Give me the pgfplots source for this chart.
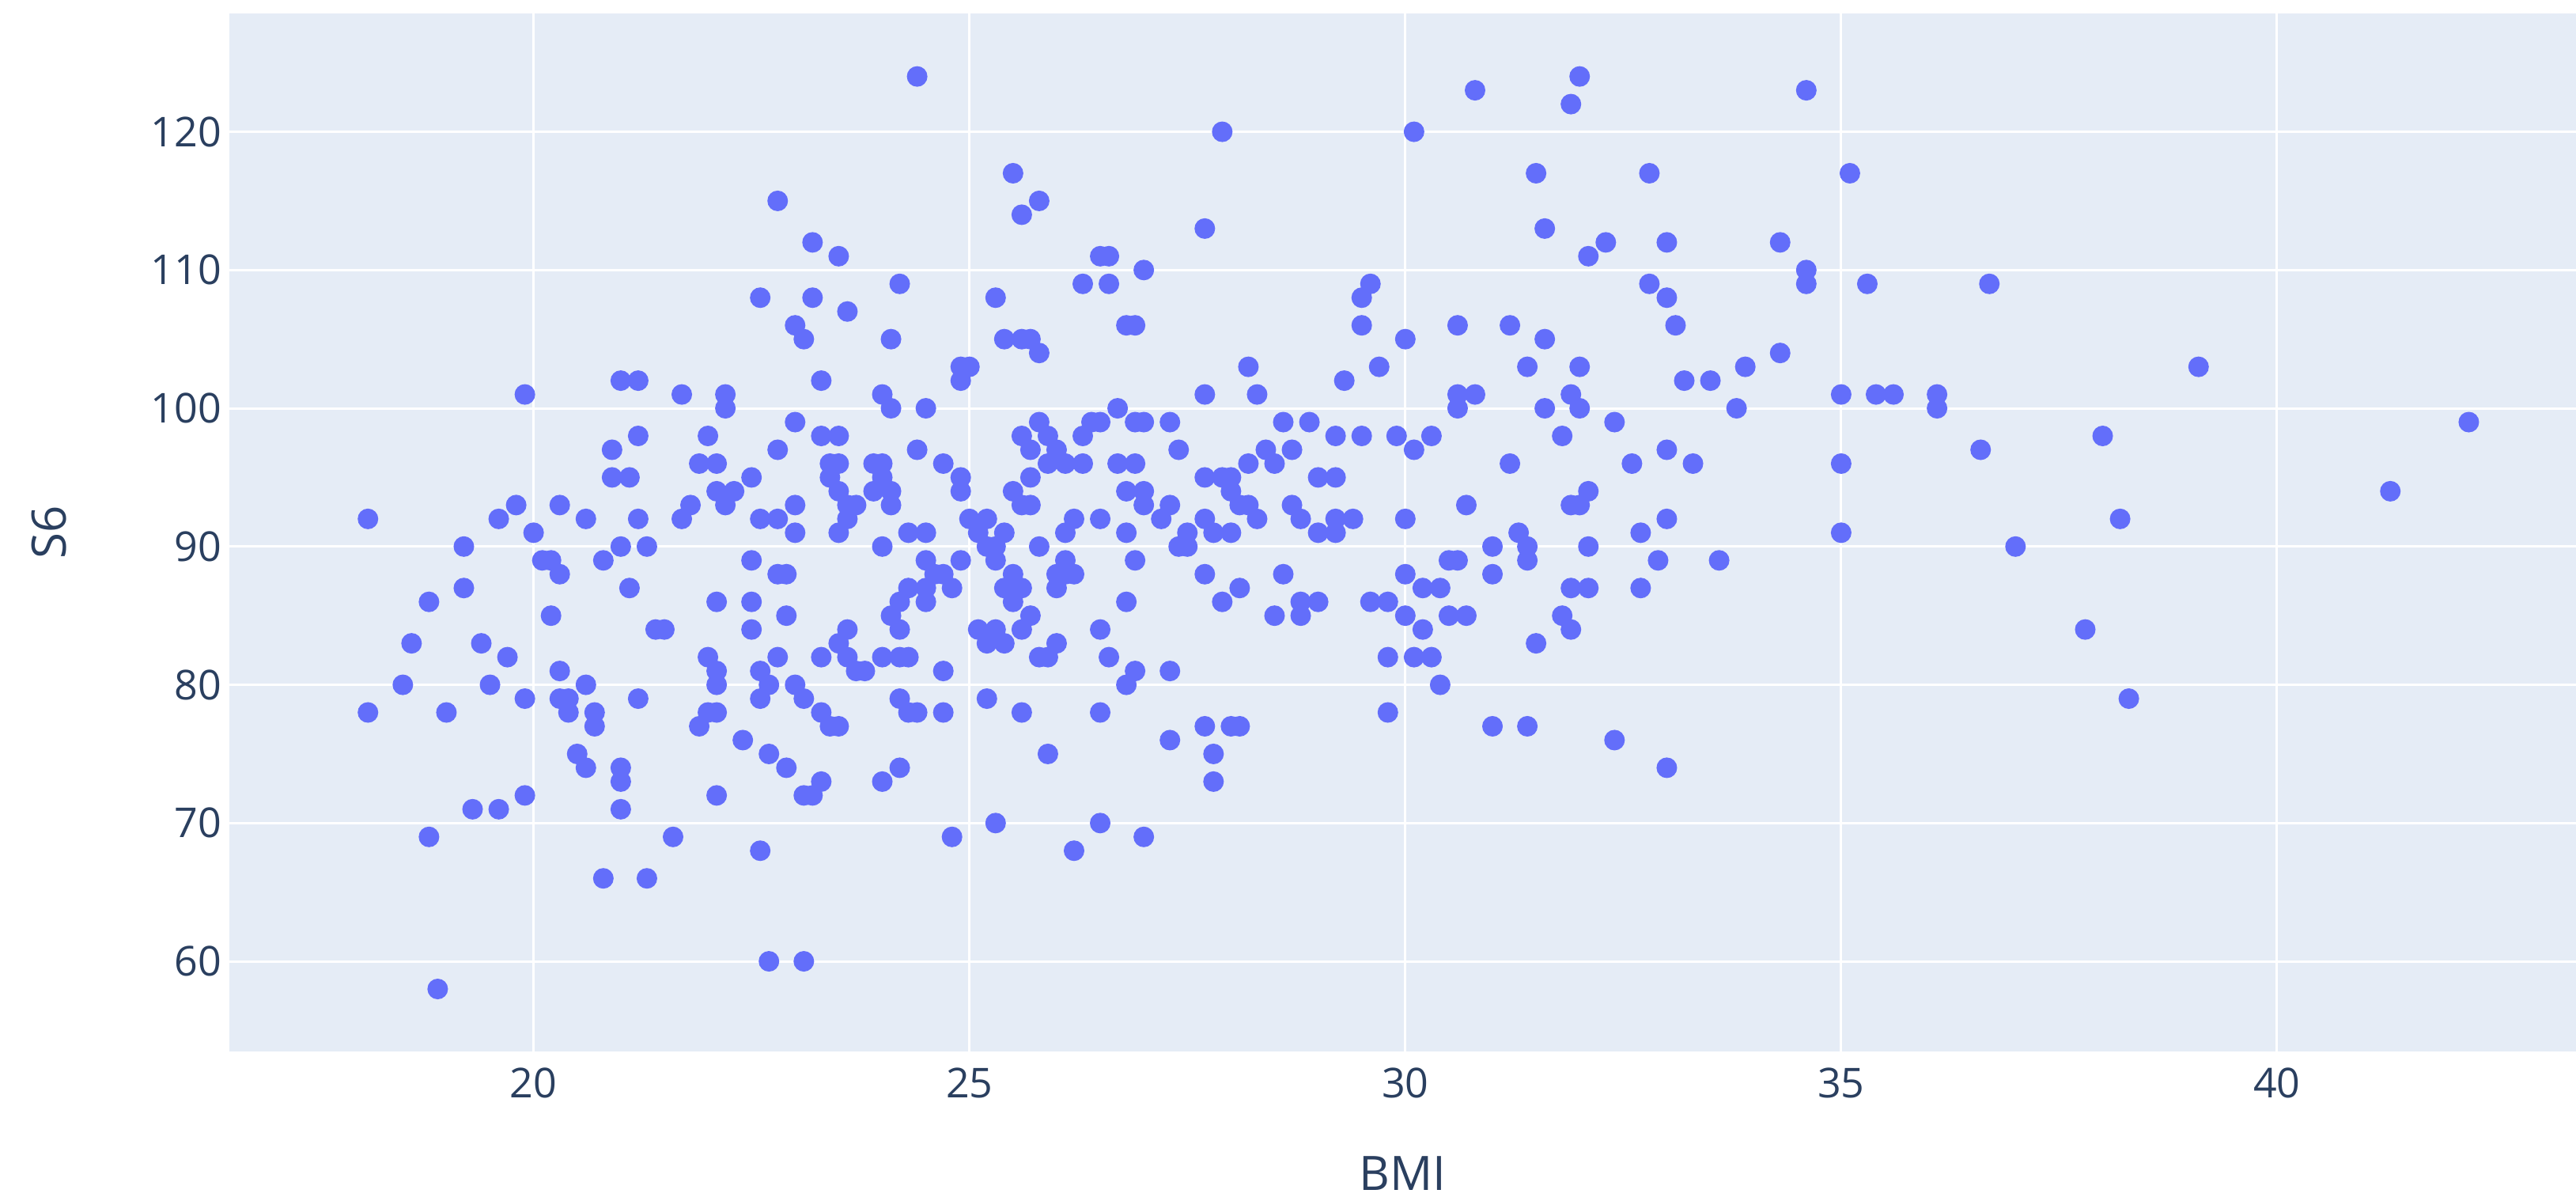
\documentclass[border=0pt]{standalone}
\usepackage{fontspec}
\setmainfont{Open Sans}
\usepackage{pgfplots}
\usepackage{pgfplotstable}
\pgfplotsset{compat=1.18}
\definecolor{plotbg}{HTML}{E5ECF6}
\definecolor{markc}{HTML}{636EFA}
\definecolor{labelc}{HTML}{2A3F5F}

\pgfplotstableread{
x y
24.4 124
27.9 120
25.5 117
22.8 115
25.8 115
25.6 114
27.7 113
23.2 112
23.5 111
22.6 108
23.2 108
32.0 124
30.8 123
34.6 123
31.9 122
30.1 120
31.5 117
32.8 117
35.1 117
31.6 113
32.3 112
33.0 112
34.3 112
32.1 111
34.6 110
32.8 109
34.6 109
35.3 109
36.7 109
33.0 108
23.6 107
23.0 106
23.1 105
21.0 102
21.2 102
23.3 102
19.9 101
21.7 101
22.2 101
22.2 100
23.0 99
21.2 98
22.0 98
23.3 98
23.5 98
20.9 97
22.8 97
21.9 96
22.1 96
23.4 96
23.5 96
20.9 95
21.1 95
22.5 95
23.4 95
22.1 94
22.3 94
23.5 94
23.6 93
19.8 93
20.3 93
21.8 93
22.2 93
23.0 93
18.1 92
19.6 92
20.6 92
21.2 92
21.7 92
22.6 92
22.8 92
23.6 92
20.0 91
23.0 91
23.5 91
19.2 90
21.0 90
21.3 90
20.1 89
20.2 89
20.3 88
20.8 89
22.5 89
22.8 88
22.9 88
19.2 87
21.1 87
18.8 86
22.1 86
22.5 86
20.2 85
22.9 85
21.4 84
21.5 84
22.5 84
23.6 84
18.6 83
19.4 83
23.5 83
19.7 82
22.0 82
22.8 82
23.3 82
23.6 82
22.1 81
20.3 81
22.6 81
18.5 80
19.5 80
20.6 80
22.1 80
22.7 80
23.0 80
23.7 93
23.9 96
23.9 94
23.7 81
23.8 81
19.9 79
18.1 78
19.0 78
20.3 79
20.4 79
20.4 78
20.7 78
20.7 77
21.2 79
23.1 79
22.6 79
22.0 78
22.1 78
21.9 77
23.3 78
23.4 77
23.5 77
22.4 76
20.5 75
20.6 74
21.0 74
21.0 73
22.7 75
22.9 74
23.3 73
23.1 72
23.2 72
19.9 72
19.3 71
19.6 71
21.0 71
22.1 72
18.8 69
21.6 69
22.6 68
20.8 66
21.3 66
22.7 60
23.1 60
18.9 58
26.5 111
26.6 111
27.0 110
24.2 109
26.3 109
26.6 109
29.6 109
29.5 108
25.3 108
26.8 106
26.9 106
29.5 106
24.1 105
25.4 105
25.6 105
25.7 105
25.8 104
24.9 103
25.0 103
24.9 102
28.2 103
29.7 103
29.3 102
27.7 101
28.3 101
24.0 101
24.1 100
24.5 100
26.7 100
25.8 99
26.4 99
26.5 99
26.9 99
27.0 99
27.3 99
28.6 99
28.9 99
25.6 98
25.9 98
26.3 98
29.2 98
29.5 98
29.9 98
24.4 97
25.7 97
26.0 97
27.4 97
28.4 97
28.7 97
24.7 96
25.9 96
26.1 96
26.3 96
26.7 96
26.9 96
28.2 96
28.5 96
24.0 96
24.0 95
24.1 94
24.1 93
24.9 95
24.9 94
25.7 95
27.7 95
27.9 95
28.0 95
29.0 95
29.2 95
25.5 94
26.8 94
27.0 94
28.0 94
25.6 93
25.7 93
27.0 93
27.3 93
28.1 93
28.2 93
28.7 93
25.0 92
25.2 92
26.2 92
26.5 92
27.2 92
27.7 92
28.3 92
28.8 92
29.2 92
29.4 92
24.3 91
24.5 91
25.1 91
25.4 91
26.1 91
26.8 91
27.5 91
27.8 91
28.0 91
29.0 91
29.2 91
25.2 90
25.8 90
27.4 90
24.0 90
25.3 90
27.5 90
24.5 89
24.9 89
25.3 89
26.1 89
26.9 89
24.6 88
24.7 88
25.5 88
26.0 88
26.1 88
26.2 88
27.7 88
28.6 88
24.3 87
24.5 87
24.8 87
25.4 87
25.5 87
25.6 87
26.0 87
28.1 87
24.2 86
24.5 86
25.5 86
26.8 86
27.9 86
28.8 86
29.0 86
29.6 86
29.8 86
24.1 85
25.7 85
28.5 85
28.8 85
24.2 84
25.1 84
25.3 84
25.6 84
26.5 84
25.2 83
25.4 83
26.0 83
24.0 82
24.2 82
24.3 82
25.8 82
25.9 82
26.6 82
29.8 82
24.7 81
26.9 81
27.3 81
26.8 80
24.2 79
25.2 79
24.3 78
24.4 78
24.7 78
25.6 78
26.5 78
27.7 77
28.0 77
28.1 77
27.3 76
25.9 75
27.8 75
24.2 74
24.0 73
27.8 73
25.3 70
26.5 70
24.8 69
27.0 69
26.2 68
33.1 106
30.6 106
31.2 106
30.0 105
31.6 105
31.4 103
32.0 103
33.9 103
34.3 104
33.2 102
33.5 102
30.6 101
30.8 101
31.9 101
35.0 101
35.4 101
35.6 101
30.6 100
31.6 100
32.0 100
33.8 100
32.4 99
30.3 98
30.1 97
31.8 98
33.0 97
31.2 96
32.6 96
33.3 96
35.0 96
32.1 94
31.9 93
32.0 93
30.7 93
30.0 92
33.0 92
31.3 91
32.7 91
35.0 91
31.0 90
31.4 90
32.1 90
30.5 89
30.6 89
31.4 89
32.9 89
33.6 89
30.0 88
31.0 88
30.2 87
30.4 87
31.9 87
32.1 87
32.7 87
30.0 85
30.5 85
30.7 85
31.8 85
30.2 84
31.9 84
31.5 83
30.1 82
30.3 82
30.4 80
29.8 78
31.0 77
31.4 77
32.4 76
33.0 74
39.1 103
36.1 101
36.1 100
36.6 97
38.0 98
42.2 99
41.3 94
38.2 92
37.0 90
37.8 84
38.3 79
}\bmitable

\begin{document}
\begin{tikzpicture}
\useasboundingbox (0,0) rectangle (651.4pt,303.4pt);
\begin{axis}[
  at={(58pt,37.6pt)}, anchor=south west,
  width=593.4pt, height=262.4pt, scale only axis,
  xmin=16.51, xmax=43.43, ymin=53.48, ymax=128.56,
  axis background/.style={fill=plotbg},
  axis line style={draw=none},
  major tick length=0pt,
  grid=major,
  grid style={white, line width=0.6pt},
  xtick={20,25,30,35,40},
  ytick={60,70,80,90,100,110,120},
  /pgf/number format/assume math mode=true,
  tick label style={font=\fontsize{10.4}{12}\selectfont, text=labelc, inner sep=0pt},
  xticklabel shift=4pt,
  yticklabel shift=1.8pt,
  xlabel={BMI},
  ylabel={S6},
  xlabel style={at={(axis description cs:0.5,-0.1174)}, anchor=center, font=\fontsize{12}{14}\selectfont, text=labelc},
  ylabel style={at={(axis description cs:-0.0768,0.5)}, anchor=center, font=\fontsize{12}{14}\selectfont, text=labelc},
]
\addplot[only marks, mark=*, mark size=2.4pt, color=markc, mark options={draw=none, fill=markc}] table[x=x, y=y] {\bmitable};
\end{axis}
\end{tikzpicture}
\end{document}
